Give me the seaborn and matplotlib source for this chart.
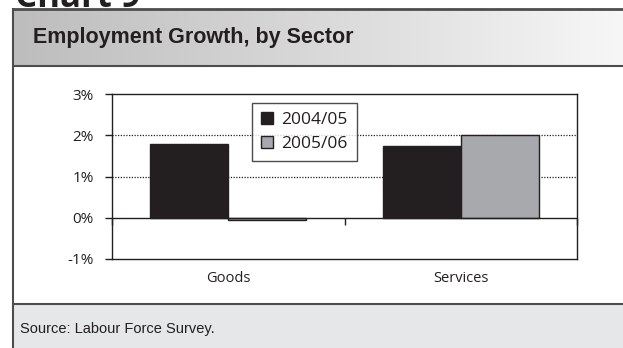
import numpy as np
import pandas as pd
import matplotlib
matplotlib.use("Agg")
import matplotlib.pyplot as plt
from matplotlib.patches import Rectangle
from matplotlib.ticker import FuncFormatter, FixedLocator
import seaborn as sns

# Employment growth by sector, year over year (%)
sectors = ["Goods", "Services"]
periods = ["2004/05", "2005/06"]
growth_2004_05 = [1.79, 1.74]
growth_2005_06 = [-0.05, 2.01]
y_ticks = [-1, 0, 1, 2, 3]

df = pd.DataFrame({
    "sector": sectors * 2,
    "period": [periods[0]] * 2 + [periods[1]] * 2,
    "growth": growth_2004_05 + growth_2005_06,
})

sns.set_style("white")
plt.rcParams["font.family"] = ["Open Sans", "DejaVu Sans"]

W, H = 623, 348
fig = plt.figure(figsize=(W / 100, H / 100), dpi=100)
fig.patch.set_facecolor("white")

# Page furniture: header band, borders, footer (pixel coordinates)
bg = fig.add_axes([0, 0, 1, 1], zorder=0)
bg.set_xlim(0, W)
bg.set_ylim(H, 0)
bg.axis("off")

grad = np.linspace(0, 1, 256)[None, :]
bg.imshow(grad, extent=[13, W + 2, 66, 9], cmap=matplotlib.colors.LinearSegmentedColormap.from_list(
    "hdr", ["#bdbdbd", "#d9d9d9", "#f7f7f7"]), aspect="auto", zorder=1)
bg.add_patch(Rectangle((13, 304), W, 50, facecolor="#e6e7e8", edgecolor="none", zorder=1))
edge = "#4d4d4d"
bg.plot([13, W + 2], [9, 9], color=edge, lw=2.0, zorder=2, solid_capstyle="butt")
bg.plot([13, W + 2], [66, 66], color=edge, lw=1.5, zorder=2, solid_capstyle="butt")
bg.plot([13, W + 2], [304, 304], color=edge, lw=1.5, zorder=2, solid_capstyle="butt")
bg.plot([13, 13], [8, H + 2], color=edge, lw=1.5, zorder=2, solid_capstyle="butt")

bg.text(15, 7, "Chart 9", fontsize=25, fontweight="bold", color="#231f20",
        family=["Open Sans", "DejaVu Sans"], va="baseline", ha="left", zorder=3)
bg.text(33, 43, "Employment Growth, by Sector", fontsize=15.5, fontweight="bold",
        color="#231f20", family=["Liberation Sans", "DejaVu Sans"], va="baseline", ha="left", zorder=3)
bg.text(20, 333, "Source: Labour Force Survey.", fontsize=10.5, color="#231f20",
        family=["Liberation Sans", "DejaVu Sans"], va="baseline", ha="left", zorder=3)

# Chart area
ax = fig.add_axes([112 / W, (H - 259) / H, (577 - 112) / W, (259 - 94) / H], zorder=2)
ax.set_facecolor("white")

sns.barplot(data=df, x="sector", y="growth", hue="period", order=sectors, hue_order=periods,
            palette=["#231f20", "#a7a9ac"], width=0.67, edgecolor="#231f20", linewidth=1.0,
            saturation=1, ax=ax, zorder=3)

ax.set_xlim(-0.5, 1.5)
ax.set_ylim(y_ticks[0], y_ticks[-1])
ax.yaxis.set_major_locator(FixedLocator(y_ticks))
ax.yaxis.set_major_formatter(FuncFormatter(lambda v, _: f"{v:.0f}%"))
ax.set_xlabel("")
ax.set_ylabel("")

for yv in [1, 2]:
    ax.axhline(yv, color="#231f20", lw=0.9, ls=(0, (1, 1.2)), zorder=1)
ax.axhline(0, color="#231f20", lw=1.0, zorder=4)

for s in ax.spines.values():
    s.set_color("#231f20")
    s.set_linewidth(1.0)

ax.tick_params(axis="y", direction="out", length=5, width=1, color="#231f20",
               labelsize=11, labelcolor="#231f20", pad=8, left=True)
ax.tick_params(axis="x", length=0, labelsize=10.5, labelcolor="#231f20", pad=9)

# Category separator ticks on the zero line
sec = ax.secondary_xaxis(0.25)
sec.set_xticks([-0.5, 0.5, 1.5])
sec.set_xticklabels([])
sec.tick_params(direction="out", length=5, width=1, color="#231f20")
sec.spines["bottom"].set_visible(False)

leg = ax.legend(loc="upper left", bbox_to_anchor=(0.301, 0.945), borderaxespad=0,
                frameon=True, fancybox=False, edgecolor="#231f20", fontsize=12.5,
                handlelength=0.7, handleheight=0.7, handletextpad=0.5,
                labelspacing=0.45, borderpad=0.5, title=None)
leg.get_frame().set_linewidth(1.0)
leg.set_zorder(5)
for t in leg.get_texts():
    t.set_color("#231f20")

fig.savefig("out.png", dpi=100)
